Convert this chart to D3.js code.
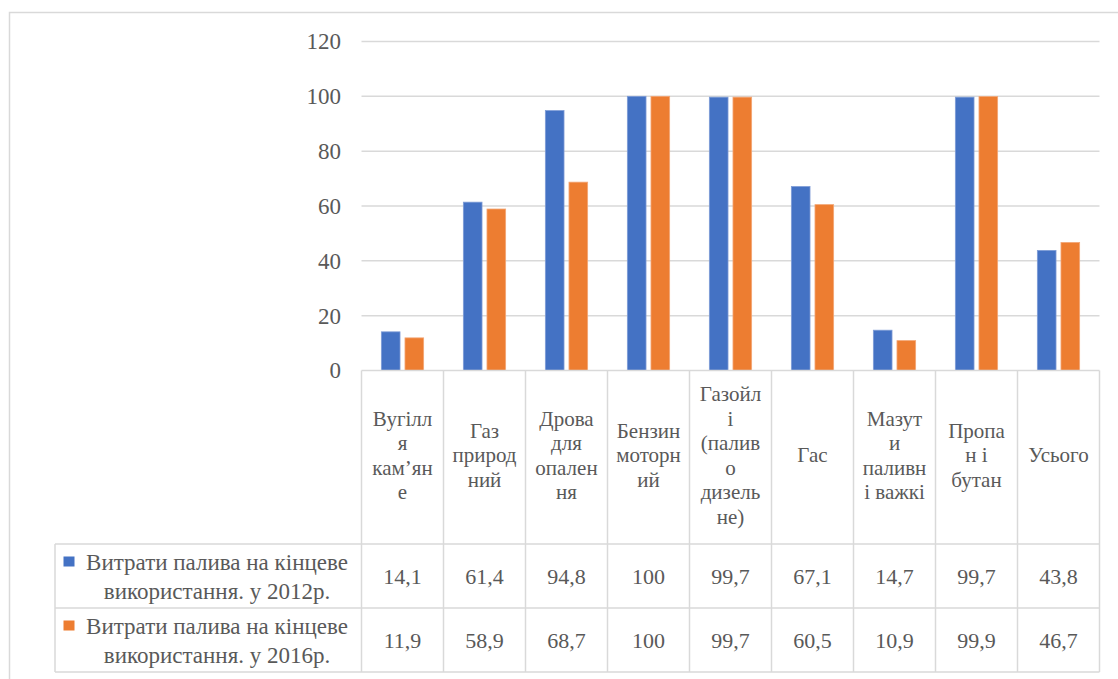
<!DOCTYPE html>
<html>
<head>
<meta charset="utf-8">
<script src="https://cdn.jsdelivr.net/npm/d3@7"></script>
<style>
  html, body { margin: 0; padding: 0; background: #fff; }
  svg { display: block; }
  svg text { font-family: "Liberation Serif", Tinos, "DejaVu Serif", "Times New Roman", serif; fill: #595959; }
</style>
</head>
<body>
<svg id="chart" width="1118" height="679"></svg>
<script>
// Fuel categories, with the line breaks used in the data-table header
const categoryLines = [
  ["Вугілл", "я", "кам’ян", "е"],
  ["Газ", "природ", "ний"],
  ["Дрова", "для", "опален", "ня"],
  ["Бензин", "моторн", "ий"],
  ["Газойл", "і", "(палив", "о", "дизель", "не)"],
  ["Гас"],
  ["Мазут", "и", "паливн", "і важкі"],
  ["Пропа", "н і", "бутан"],
  ["Усього"]
];
const categories = categoryLines.map(l => l.join(" "));

const seriesNames = [
  ["Витрати палива на кінцеве", "використання. у 2012р."],
  ["Витрати палива на кінцеве", "використання. у 2016р."]
];
const values2012 = [14.1, 61.4, 94.8, 100, 99.7, 67.1, 14.7, 99.7, 43.8];
const values2016 = [11.9, 58.9, 68.7, 100, 99.7, 60.5, 10.9, 99.9, 46.7];
const seriesColors = ["#4472C4", "#ED7D31"];
const seriesStrokes = ["#7e9cd6", "#f3a675"];
const yTicks = [0, 20, 40, 60, 80, 100, 120];

const series = [values2012, values2016];
const svg = d3.select("#chart");
const gridColor = "#d9d9d9";
const serif = '"Liberation Serif", Tinos, "DejaVu Serif", "Times New Roman", serif';

// Outer chart frame
svg.append("path")
  .attr("d", "M9.5,679 L9.5,12.5 L1118,12.5")
  .attr("fill", "none").attr("stroke", gridColor).attr("stroke-width", 1.5);

const plotLeft = 361.5, plotRight = 1099.5, plotTop = 41.5, plotBottom = 370.5;
const headerBottom = 544, row1Bottom = 608, row2Bottom = 672;
const legendLeft = 55;

const x0 = d3.scaleBand().domain(d3.range(categories.length)).range([plotLeft, plotRight]).padding(0);
const x1 = d3.scaleBand().domain([0, 1]).range([0, x0.bandwidth()]).paddingInner(0.21).paddingOuter(0.84);
const y = d3.scaleLinear().domain([0, 120]).range([plotBottom, plotTop]);

// Gridlines
svg.append("g").selectAll("line").data(yTicks.filter(t => t > 0)).join("line")
  .attr("x1", plotLeft).attr("x2", plotRight)
  .attr("y1", d => y(d)).attr("y2", d => y(d))
  .attr("stroke", gridColor).attr("stroke-width", 1.5);

// Y axis labels
const yAxis = d3.axisLeft(y).tickValues(yTicks).tickSize(0).tickPadding(0).tickFormat(d3.format("d"));
const yg = svg.append("g").attr("transform", `translate(341,0)`).call(yAxis);
yg.attr("font-family", null).attr("font-size", null);
yg.select(".domain").remove();
yg.selectAll("text")
  .style("font-family", serif)
  .style("font-size", "23px")
  .style("fill", "#595959");

// Bars
series.forEach((vals, s) => {
  svg.append("g").selectAll("rect").data(vals).join("rect")
    .attr("x", (d, i) => x0(i) + x1(s))
    .attr("width", x1.bandwidth())
    .attr("y", d => y(d))
    .attr("height", d => y(0) - y(d))
    .attr("fill", seriesColors[s])
    .attr("stroke", seriesStrokes[s])
    .attr("stroke-width", 0.8);
});

// Data table lines
const tbl = svg.append("g").attr("stroke", gridColor).attr("stroke-width", 1.5);
tbl.append("line").attr("x1", plotLeft).attr("x2", plotRight).attr("y1", plotBottom).attr("y2", plotBottom);
[headerBottom, row1Bottom, row2Bottom].forEach(yy => {
  tbl.append("line").attr("x1", legendLeft).attr("x2", plotRight).attr("y1", yy).attr("y2", yy);
});
d3.range(categories.length + 1).forEach(i => {
  const xx = i < categories.length ? x0(i) : plotRight;
  tbl.append("line").attr("x1", xx).attr("x2", xx).attr("y1", plotBottom).attr("y2", row2Bottom);
});
tbl.append("line").attr("x1", legendLeft).attr("x2", legendLeft).attr("y1", headerBottom).attr("y2", row2Bottom);

// Category header labels
const lineH = 24.5;
const headerMid = (plotBottom + headerBottom) / 2 - 2;
categoryLines.forEach((lines, i) => {
  const cx = x0(i) + x0.bandwidth() / 2;
  const startY = headerMid - (lines.length - 1) * lineH / 2;
  const t = svg.append("text").attr("text-anchor", "middle")
    .style("font-family", serif).style("font-size", "21px")
    .attr("dominant-baseline", "central");
  lines.forEach((ln, k) => {
    t.append("tspan").attr("x", cx).attr("y", startY + k * lineH).text(ln);
  });
});

// Legend cells and values
const rowTops = [headerBottom, row1Bottom];
const fmt = v => String(v).replace(".", ",");
series.forEach((vals, s) => {
  const rowMid = (rowTops[s] + rowTops[s] + 64) / 2;
  const cx = 217;
  const t = svg.append("text").attr("text-anchor", "middle")
    .style("font-family", serif).style("font-size", "23px")
    .attr("dominant-baseline", "central");
  seriesNames[s].forEach((ln, k) => {
    t.append("tspan").attr("x", cx).attr("y", rowMid - 14 + k * 28.5).text(ln);
  });
  svg.append("rect").attr("x", 63.5).attr("y", rowTops[s] + 12.5).attr("width", 11).attr("height", 10)
    .attr("fill", seriesColors[s]);
  svg.append("g").selectAll("text").data(vals).join("text")
    .attr("x", (d, i) => x0(i) + x0.bandwidth() / 2)
    .attr("y", rowMid)
    .attr("text-anchor", "middle").attr("dominant-baseline", "central")
    .style("font-family", serif).style("font-size", "22px")
    .text(fmt);
});
</script>
</body>
</html>
